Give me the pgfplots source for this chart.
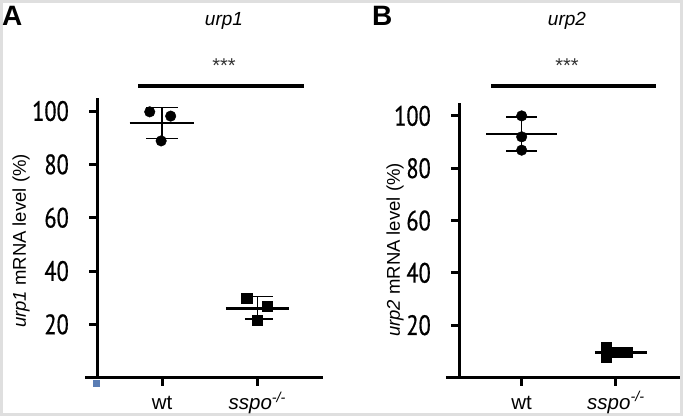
\documentclass[border=0pt]{standalone}
\usepackage{fontspec}
\setmainfont{Liberation Sans}
\newfontfamily\ptsans[FakeStretch=0.8, FakeBold=0.6]{PT Sans}
\usepackage{pgfplots}
\pgfplotsset{compat=1.18}
\definecolor{sqblue}{RGB}{90,125,180}

\pgfplotsset{
  panel/.style={
    scale only axis, clip=false,
    axis x line*=bottom, axis y line*=left,
    axis line style={line width=3pt, black},
    tick align=outside, major tick length=8pt,
    tick style={line width=3pt, black},
    ymin=0, ymax=105, ytick={20,40,60,80,100},
    xtick={1,2}, xticklabels={wt, \textit{sspo\textsuperscript{-/-}}},
    /pgf/number format/assume math mode=true,
    yticklabel style={font=\ptsans\fontsize{28}{30}\selectfont, anchor=east, inner sep=0pt, xshift=-20pt},
    xticklabel style={font=\fontsize{20.5}{22}\selectfont, anchor=base, inner sep=0pt, yshift=-24pt},
  },
  pts/.style={only marks, black, mark=*, mark size=5.3pt},
  sqs/.style={only marks, black, mark=square*, mark size=5.2pt},
  meanl/.style={black, line width=2.5pt, mark=none},
  errl/.style={black, line width=1.5pt, mark=none},
}

\begin{document}
\begin{tikzpicture}
\useasboundingbox (0,0) rectangle (683pt,-416pt);
\draw[gray!25, line width=3pt] (1.5pt,-1.5pt) rectangle (681.5pt,-414.5pt);

% ---------------- Panel A ----------------
\begin{axis}[panel, at={(97pt,-377.7pt)}, anchor=south west,
  width=226pt, height=280pt, xmin=0.316, xmax=2.69]
  % wt
  \addplot[errl] coordinates {(1,89.7) (1,101.4)};
  \addplot[errl] coordinates {(0.835,101.4) (1.165,101.4)};
  \addplot[errl] coordinates {(0.835,89.7) (1.165,89.7)};
  \addplot[meanl] coordinates {(0.66,95.6) (1.34,95.6)};
  \addplot[pts] coordinates {(0.87,99.7) (1.09,98.1) (0.99,88.8)};
  % sspo
  \addplot[errl] coordinates {(2,22.0) (2,30.4)};
  \addplot[errl] coordinates {(1.87,30.4) (2.17,30.4)};
  \addplot[errl] coordinates {(1.87,22.0) (2.17,22.0)};
  \addplot[meanl] coordinates {(1.67,26.0) (2.33,26.0)};
  \addplot[sqs] coordinates {(1.89,29.8) (2.105,26.9) (2.0,21.6)};
  % axis extension to the left
  \draw[black, line width=3pt] (axis cs:0.19,0) -- (axis cs:0.316,0);
\end{axis}
\fill[sqblue] (93pt,-380pt) rectangle (100pt,-387pt);

% ---------------- Panel B ----------------
\begin{axis}[panel, at={(459pt,-377.5pt)}, anchor=south west,
  width=221pt, height=274.7pt, xmin=0.335, xmax=2.68]
  % wt
  \addplot[errl] coordinates {(1,86.5) (1,99.6)};
  \addplot[errl] coordinates {(0.835,99.6) (1.165,99.6)};
  \addplot[errl] coordinates {(0.835,86.5) (1.165,86.5)};
  \addplot[meanl] coordinates {(0.624,93.0) (1.376,93.0)};
  \addplot[pts] coordinates {(1,100) (1,92) (1,86.9)};
  % sspo
  \addplot[meanl] coordinates {(1.777,9.6) (2.33,9.6)};
  \addplot[sqs] coordinates {(1.90,11.4) (1.90,7.7) (2.0,9.6) (2.12,9.6)};
  \addplot[white, line width=0.8pt] coordinates {(2,7.9) (2,11.3)};
  \addplot[white, line width=0.8pt] coordinates {(1.95,9.6) (2.05,9.6)};
  \draw[black, line width=3pt] (axis cs:0.197,0) -- (axis cs:0.335,0);
\end{axis}

% ---------------- Texts ----------------
\node[anchor=base west, inner sep=0pt, font=\bfseries\fontsize{28}{30}\selectfont] at (2pt,-25pt) {A};
\node[anchor=base west, inner sep=0pt, font=\bfseries\fontsize{28}{30}\selectfont] at (372pt,-25pt) {B};

\node[anchor=base, inner sep=0pt, font=\itshape\fontsize{19}{21}\selectfont] at (224pt,-25pt) {urp1};
\node[anchor=base, inner sep=0pt, font=\itshape\fontsize{19}{21}\selectfont] at (567pt,-25pt) {urp2};

\node[anchor=base, inner sep=0pt, font=\fontsize{20}{22}\selectfont, black!80] at (224pt,-72pt) {***};
\node[anchor=base, inner sep=0pt, font=\fontsize{20}{22}\selectfont, black!80] at (567pt,-72pt) {***};

\draw[black, line width=4pt] (138pt,-86pt) -- (304pt,-86pt);
\draw[black, line width=4pt] (491pt,-86pt) -- (656pt,-86pt);

\node[rotate=90, inner sep=0pt, font=\fontsize{18.5}{20}\selectfont] at (21pt,-241pt) {\textit{urp1} mRNA level (\%)};
\node[rotate=90, inner sep=0pt, font=\fontsize{18.5}{20}\selectfont] at (395pt,-250pt) {\textit{urp2} mRNA level (\%)};
\end{tikzpicture}
\end{document}
